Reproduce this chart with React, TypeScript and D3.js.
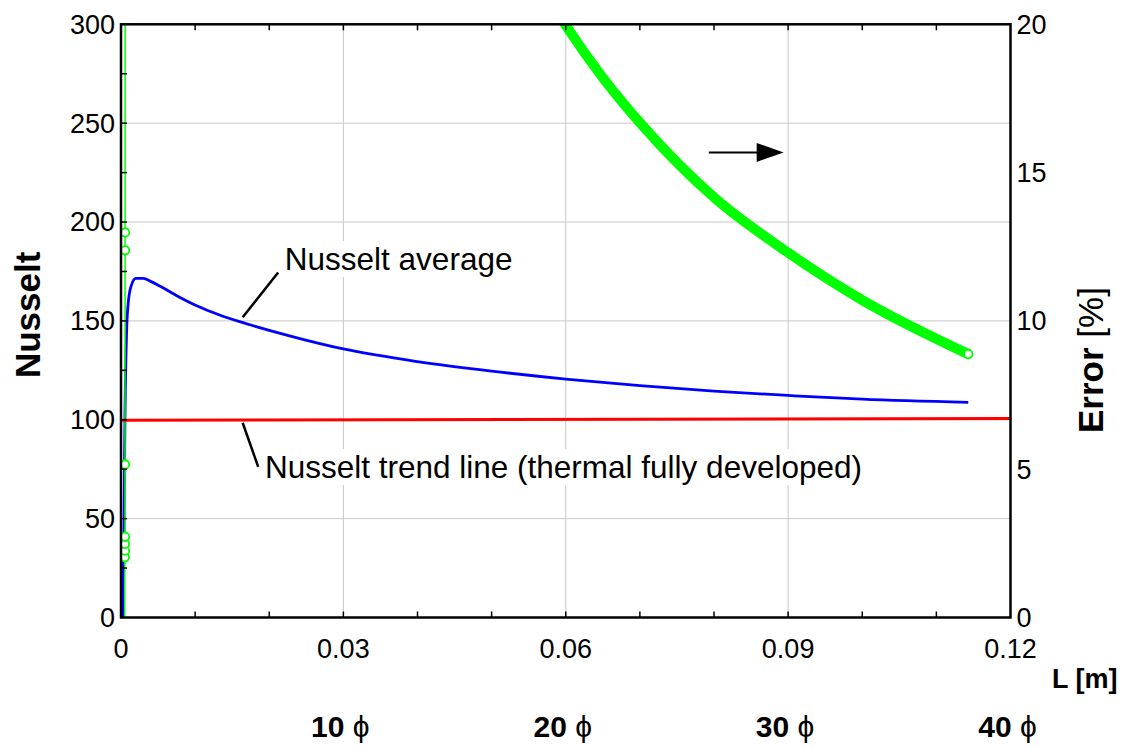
import React, { useEffect, useRef } from "react";
import * as d3 from "d3";

const W = 1126;
const H = 749;

// ---- data ----
const xTickValues = [0, 0.03, 0.06, 0.09, 0.12];
const xTickLabels = ["0", "0.03", "0.06", "0.09", "0.12"];
const xMinorTicks = [0.01, 0.02, 0.03, 0.04, 0.05, 0.06, 0.07, 0.08, 0.09, 0.1, 0.11];
const yLeftTicks = [0, 50, 100, 150, 200, 250, 300];
const yLeftMinor = [25, 50, 75, 100, 125, 150, 175, 200, 225, 250, 275];
const yRightTicks = [0, 5, 10, 15, 20];
const diameterCounts = [10, 20, 30, 40];
const diameterM = 0.003;

// Nusselt average (blue)
const nuAvgL = [0.00025, 0.0004, 0.00054, 0.00075, 0.001, 0.0014, 0.002, 0.003, 0.004, 0.0053, 0.0079, 0.0106, 0.0133, 0.016, 0.02, 0.0244, 0.03, 0.04, 0.05, 0.06, 0.07, 0.08, 0.09, 0.1, 0.1143];
const nuAvgV = [0, 45, 103, 144, 160, 168, 171.5, 171.5, 170, 167.5, 162, 157, 153, 149.6, 145.2, 140.8, 135.8, 129.4, 124.6, 120.6, 117.3, 114.5, 112.3, 110.4, 108.8];

// Nusselt trend line (red)
const trendL = [0, 0.12];
const trendV = [99.8, 100.7];

// Error [%] (green, right axis)
const errL = [0.0005, 0.00052, 0.00053, 0.00053, 0.00054, 0.00054, 0.00055, 0.00055, 0.00056, 0.0006, 0.001, 0.003, 0.01, 0.02, 0.03, 0.04, 0.05, 0.055, 0.0599, 0.065, 0.0703, 0.0803, 0.09, 0.1, 0.1143];
const errV = [0, 2.03, 2.25, 2.48, 2.72, 5.16, 12.38, 12.98, 25, 45, 59, 71, 57, 45, 36, 30, 24.5, 22, 20, 18.2, 16.6, 14.1, 12.3, 10.7, 8.88];
const errMarkerIdx = [1, 2, 3, 4, 5, 6, 7, 24];
const errDenseFrom = 0.05;

export default function App() {
  const ref = useRef<SVGSVGElement | null>(null);

  useEffect(() => {
    const svg = d3.select(ref.current);
    svg.selectAll("*").remove();

    const left = 121, right = 1010.5, top = 24.3, bottom = 617.5;
    const x = d3.scaleLinear().domain([0, 0.12]).range([left, right]);
    const yL = d3.scaleLinear().domain([0, 300]).range([bottom, top]);
    const yR = d3.scaleLinear().domain([0, 20]).range([bottom, top]);
    const font = "'Liberation Sans', Arial, sans-serif";

    svg.append("rect").attr("width", W).attr("height", H).attr("fill", "#fff");

    const defs = svg.append("defs");
    defs.append("clipPath").attr("id", "plotclip")
      .append("rect").attr("x", left).attr("y", top).attr("width", right - left).attr("height", bottom - top);

    // grid
    const grid = svg.append("g").attr("stroke", "#c8c8c8").attr("stroke-width", 1);
    xTickValues.slice(1, -1).forEach((v) => {
      grid.append("line").attr("x1", x(v)).attr("x2", x(v)).attr("y1", top).attr("y2", bottom);
    });
    yLeftTicks.slice(1, -1).forEach((v) => {
      grid.append("line").attr("x1", left).attr("x2", right).attr("y1", yL(v)).attr("y2", yL(v));
    });

    const plot = svg.append("g").attr("clip-path", "url(#plotclip)");

    // red trend
    const trendData = trendL.map((l, i) => [l, trendV[i]] as [number, number]);
    svg.append("path").datum(trendData)
      .attr("d", d3.line<[number, number]>().x((d) => x(d[0])).y((d) => yL(d[1])))
      .attr("fill", "none").attr("stroke", "#ff0000").attr("stroke-width", 3);

    // blue average
    const avgData = nuAvgL.map((l, i) => [l, nuAvgV[i]] as [number, number]);
    plot.append("path").datum(avgData)
      .attr("d", d3.line<[number, number]>().x((d) => x(d[0])).y((d) => yL(d[1])).curve(d3.curveMonotoneX))
      .attr("fill", "none").attr("stroke", "#0000ff").attr("stroke-width", 2.8).attr("stroke-linejoin", "round");

    // green error
    const errData = errL.map((l, i) => [l, errV[i]] as [number, number]);
    const errLine = d3.line<[number, number]>().x((d) => x(d[0])).y((d) => yR(d[1]));
    plot.append("path").datum(errData)
      .attr("d", errLine)
      .attr("fill", "none").attr("stroke", "#00ff00").attr("stroke-width", 1.5);
    const dense = errData.filter((d) => d[0] >= errDenseFrom);
    plot.append("path").datum(dense)
      .attr("d", errLine.curve(d3.curveMonotoneX))
      .attr("fill", "none").attr("stroke", "#00ff00").attr("stroke-width", 10)
      .attr("stroke-linecap", "round").attr("stroke-linejoin", "round");
    errMarkerIdx.forEach((i) => {
      plot.append("circle").attr("cx", x(errL[i])).attr("cy", yR(errV[i])).attr("r", 4.2)
        .attr("fill", "#fff").attr("stroke", "#00ff00").attr("stroke-width", 1.8);
    });

    // frame
    svg.append("rect").attr("x", left).attr("y", top).attr("width", right - left).attr("height", bottom - top)
      .attr("fill", "none").attr("stroke", "#000").attr("stroke-width", 2.5);

    // ticks
    const tk = svg.append("g").attr("stroke", "#000").attr("stroke-width", 1.5);
    xMinorTicks.forEach((v) => {
      tk.append("line").attr("x1", x(v)).attr("x2", x(v)).attr("y1", bottom).attr("y2", bottom - 6);
      tk.append("line").attr("x1", x(v)).attr("x2", x(v)).attr("y1", top).attr("y2", top + 6);
    });
    yLeftMinor.forEach((v) => {
      tk.append("line").attr("x1", left).attr("x2", left + 6).attr("y1", yL(v)).attr("y2", yL(v));
    });

    // tick labels
    const tl = svg.append("g").attr("font-family", font).attr("font-size", 27).attr("fill", "#000");
    xTickValues.forEach((v, i) => {
      tl.append("text").attr("x", x(v)).attr("y", 658).attr("text-anchor", "middle").text(xTickLabels[i]);
    });
    yLeftTicks.forEach((v) => {
      tl.append("text").attr("x", left - 6).attr("y", yL(v)).attr("dy", "0.35em").attr("text-anchor", "end").text(String(v));
    });
    yRightTicks.forEach((v) => {
      tl.append("text").attr("x", right + 6).attr("y", yR(v)).attr("dy", "0.35em").attr("text-anchor", "start").text(String(v));
    });

    // axis titles
    svg.append("text").attr("transform", `translate(40, ${(top + bottom) / 2 - 6}) rotate(-90)`)
      .attr("text-anchor", "middle").attr("font-family", font).attr("font-weight", "bold").attr("font-size", 35)
      .text("Nusselt");
    const et = svg.append("text").attr("transform", `translate(1103, 433) rotate(-90)`)
      .attr("text-anchor", "start").attr("font-family", font).attr("font-size", 35);
    et.append("tspan").attr("font-weight", "bold").text("Error");
    et.append("tspan").text(" [%]");
    svg.append("text").attr("x", 1052).attr("y", 688).attr("font-family", font).attr("font-weight", "bold")
      .attr("font-size", 27).text("L [m]");

    // diameter labels
    diameterCounts.forEach((n) => {
      const t = svg.append("text").attr("x", x(n * diameterM) - 3).attr("y", 737).attr("text-anchor", "middle")
        .attr("font-family", font).attr("font-size", 30);
      t.append("tspan").attr("font-weight", "bold").text(`${n} `);
      t.append("tspan").text("ϕ");
    });

    // annotations
    const ann = svg.append("g");
    const addLabel = (lx: number, ly: number, txt: string) => {
      const bg = ann.append("rect").attr("fill", "#fff");
      const t = ann.append("text").attr("x", lx).attr("y", ly).attr("font-family", font).attr("font-size", 31.5).text(txt);
      const bb = (t.node() as SVGTextElement).getBBox();
      bg.attr("x", bb.x - 2).attr("y", bb.y).attr("width", bb.width + 4).attr("height", bb.height);
    };
    ann.append("line").attr("x1", x(0.01641)).attr("y1", yL(151.8)).attr("x2", x(0.0212)).attr("y2", yL(174.5))
      .attr("stroke", "#000").attr("stroke-width", 2.5);
    addLabel(x(0.0221), yL(175.7), "Nusselt average");
    ann.append("line").attr("x1", x(0.01641)).attr("y1", yL(98.5)).attr("x2", x(0.01851)).attr("y2", yL(76.2))
      .attr("stroke", "#000").attr("stroke-width", 2.5);
    addLabel(x(0.01942), yL(70.5), "Nusselt trend line (thermal fully developed)");

    // arrow pointing to right axis
    const ay = yR(15.68);
    const ax0 = x(0.0793), ax1 = x(0.0894);
    ann.append("line").attr("x1", ax0).attr("x2", ax1 - 26).attr("y1", ay).attr("y2", ay)
      .attr("stroke", "#000").attr("stroke-width", 2);
    ann.append("path").attr("d", `M${ax1},${ay} L${ax1 - 27},${ay - 9.5} L${ax1 - 27},${ay + 9.5} Z`).attr("fill", "#000");
  }, []);

  return (
    <svg ref={ref} width={W} height={H} style={{ position: "absolute", left: 0, top: 0, display: "block" }} />
  );
}
